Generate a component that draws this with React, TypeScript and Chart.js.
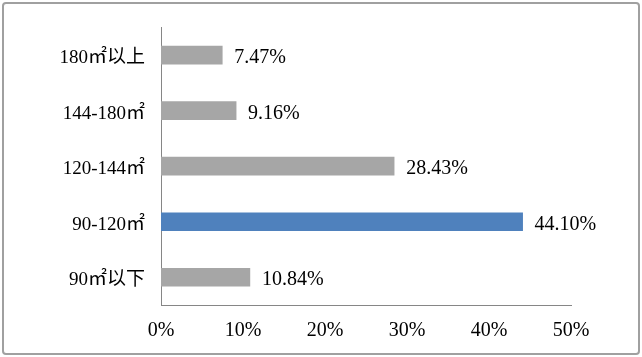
import React, { useEffect, useRef } from "react";
import { Chart, registerables } from "chart.js";

Chart.register(...registerables);

const categories = ["180㎡以上", "144-180㎡", "120-144㎡", "90-120㎡", "90㎡以下"];
const values = [7.47, 9.16, 28.43, 44.1, 10.84];
const barColors = ["#A6A6A6", "#A6A6A6", "#A6A6A6", "#4F81BD", "#A6A6A6"];
const xTicks = [0, 10, 20, 30, 40, 50];

const FONT = "'Liberation Serif', 'Times New Roman', 'Noto Sans CJK SC', serif";

const borderPlugin = {
  id: "outerBorder",
  beforeDraw(chart: any) {
    const ctx = chart.ctx;
    ctx.save();
    ctx.fillStyle = "#FFFFFF";
    ctx.fillRect(0, 0, chart.width, chart.height);
    ctx.strokeStyle = "#A0A0A0";
    ctx.lineWidth = 2;
    ctx.beginPath();
    const x = 3, y = 3, w = chart.width - 6, h = chart.height - 6, r = 3;
    ctx.moveTo(x + r, y);
    ctx.lineTo(x + w - r, y);
    ctx.quadraticCurveTo(x + w, y, x + w, y + r);
    ctx.lineTo(x + w, y + h - r);
    ctx.quadraticCurveTo(x + w, y + h, x + w - r, y + h);
    ctx.lineTo(x + r, y + h);
    ctx.quadraticCurveTo(x, y + h, x, y + h - r);
    ctx.lineTo(x, y + r);
    ctx.quadraticCurveTo(x, y, x + r, y);
    ctx.stroke();
    ctx.restore();
  },
};

const labelPlugin = {
  id: "valueLabels",
  afterDatasetsDraw(chart: any) {
    const ctx = chart.ctx;
    const meta = chart.getDatasetMeta(0);
    ctx.save();
    ctx.font = `20px ${FONT}`;
    ctx.fillStyle = "#000000";
    ctx.textAlign = "left";
    ctx.textBaseline = "middle";
    meta.data.forEach((bar: any, i: number) => {
      ctx.fillText(values[i].toFixed(2) + "%", bar.x + 12, bar.y + 3);
    });
    ctx.restore();
  },
};

export default function App() {
  const ref = useRef<HTMLCanvasElement>(null);
  useEffect(() => {
    const chart = new Chart(ref.current!, {
      type: "bar",
      data: {
        labels: categories,
        datasets: [
          {
            data: values,
            backgroundColor: barColors,
            barThickness: 18,
            borderWidth: 0,
          },
        ],
      },
      options: {
        indexAxis: "y",
        animation: false,
        responsive: false,
        maintainAspectRatio: false,
        layout: { padding: { top: 15, right: 71, bottom: 0, left: 0 } },
        plugins: { legend: { display: false }, tooltip: { enabled: false } },
        scales: {
          x: {
            min: 0,
            max: 50,
            afterBuildTicks(axis: any) {
              axis.ticks = xTicks.map((v) => ({ value: v }));
            },
            afterFit(axis: any) {
              axis.height = 52;
            },
            grid: { display: false, drawTicks: false },
            border: { display: true, color: "#868686", width: 1 },
            ticks: {
              padding: 14,
              color: "#000000",
              font: { family: FONT, size: 20 },
              maxRotation: 0,
              callback: (v: any) => v + "%",
            },
          },
          y: {
            afterFit(axis: any) {
              axis.width = 161;
            },
            grid: { display: false, drawTicks: false },
            border: { display: true, color: "#868686", width: 1 },
            ticks: {
              padding: 16,
              labelOffset: 3,
              color: "#000000",
              font: { family: FONT, size: 19 },
            },
          },
        },
      },
      plugins: [borderPlugin, labelPlugin],
    });
    return () => chart.destroy();
  }, []);
  return (
    <div style={{ position: "absolute", left: 0, top: 0, width: 642, height: 357 }}>
      <canvas ref={ref} width={642} height={357} style={{ display: "block" }} />
    </div>
  );
}
